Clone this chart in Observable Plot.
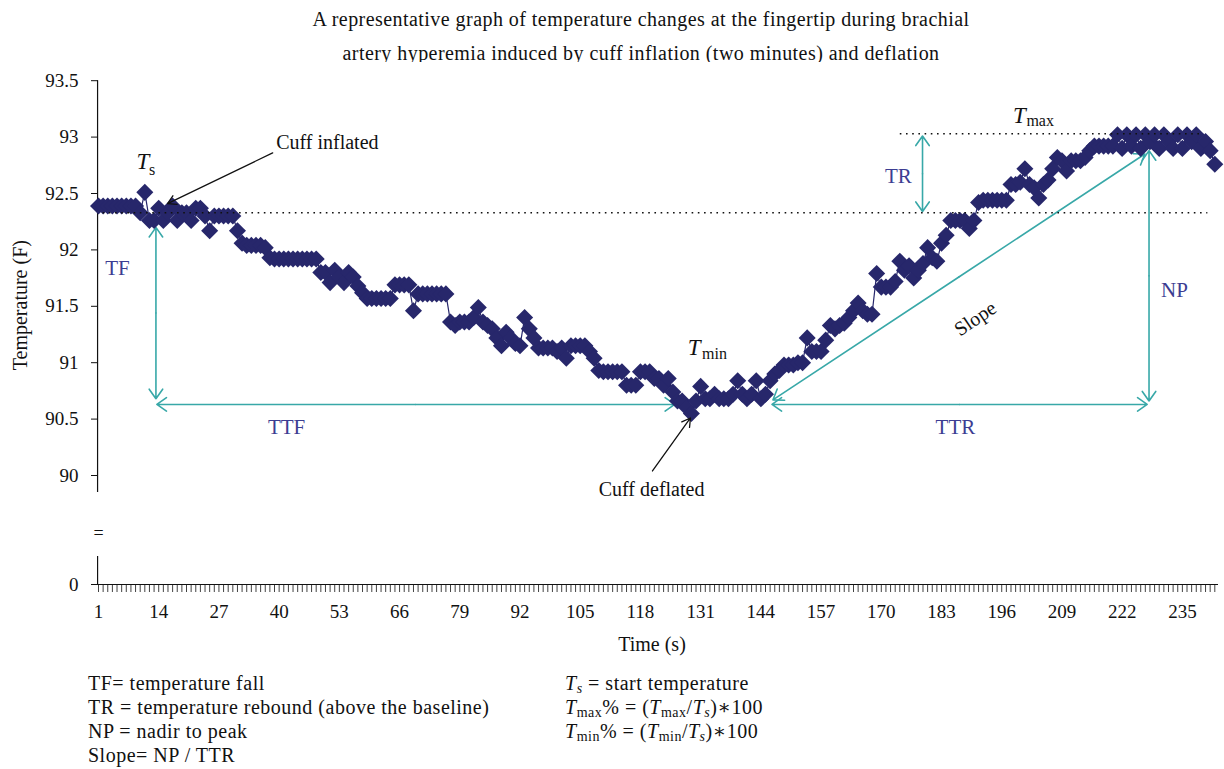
<!DOCTYPE html>
<html><head><meta charset="utf-8">
<script src="https://cdn.jsdelivr.net/npm/d3@7"></script>
<script src="https://cdn.jsdelivr.net/npm/@observablehq/plot@0.6"></script>
<style>
body{margin:0;background:#fff;width:1224px;height:769px;overflow:hidden;position:relative;font-family:'Liberation Serif','DejaVu Serif',serif;color:#111;}
#title{position:absolute;left:0;top:2px;width:1282px;text-align:center;font-size:20px;letter-spacing:0.45px;line-height:34px;}
#chart{position:absolute;left:0;top:62px;}
#xlabel{position:absolute;left:552px;width:200px;top:633px;text-align:center;font-size:20px;}
.notes{position:absolute;top:671px;font-size:20px;letter-spacing:0.5px;line-height:24px;white-space:nowrap;}
.notes sub{font-size:14px;vertical-align:-3px;line-height:0;}
</style></head>
<body>
<div id="title">A representative graph of temperature changes at the fingertip during brachial<br>artery hyperemia induced by cuff inflation (two minutes) and deflation</div>
<div id="chart"></div>
<div id="xlabel">Time (s)</div>
<div class="notes" style="left:88px">TF= temperature fall<br>TR = temperature rebound (above the baseline)<br>NP = nadir to peak<br>Slope= NP / TTR</div>
<div class="notes" style="left:565px"><i>T<sub>s</sub></i> = start temperature<br><i>T</i><sub>max</sub>% = (<i>T</i><sub>max</sub>/<i>T<sub>s</sub></i>)&lowast;100<br><i>T</i><sub>min</sub>% = (<i>T</i><sub>min</sub>/<i>T<sub>s</sub></i>)&lowast;100</div>
<script>
// Fingertip temperature (F), one reading per second
const temperature = [
92.39,92.39,92.39,92.39,92.39,92.39,92.39,92.39,92.39,92.33,
92.51,92.26,92.26,92.37,92.26,92.33,92.39,92.26,92.33,92.33,
92.26,92.37,92.37,92.30,92.17,92.30,92.30,92.30,92.30,92.30,
92.17,92.06,92.04,92.04,92.04,92.04,92.02,91.93,91.92,91.92,
91.92,91.92,91.92,91.92,91.92,91.92,91.92,91.92,91.80,91.80,
91.71,91.82,91.76,91.71,91.80,91.76,91.68,91.62,91.57,91.57,
91.57,91.57,91.57,91.57,91.69,91.69,91.69,91.69,91.46,91.61,
91.61,91.61,91.61,91.61,91.61,91.61,91.36,91.33,91.36,91.36,
91.36,91.40,91.49,91.36,91.33,91.30,91.22,91.15,91.27,91.22,
91.17,91.15,91.40,91.30,91.22,91.13,91.13,91.13,91.13,91.10,
91.13,91.04,91.15,91.15,91.15,91.15,91.10,91.04,90.93,90.92,
90.92,90.92,90.92,90.92,90.80,90.80,90.80,90.92,90.92,90.92,
90.86,90.86,90.80,90.86,90.74,90.66,90.66,90.60,90.55,90.66,
90.79,90.68,90.68,90.72,90.68,90.68,90.68,90.72,90.84,90.72,
90.68,90.72,90.84,90.68,90.72,90.84,90.90,90.93,90.98,90.98,
90.98,91.00,91.00,91.22,91.10,91.10,91.10,91.20,91.33,91.30,
91.33,91.35,91.40,91.46,91.53,91.46,91.43,91.43,91.79,91.67,
91.67,91.67,91.72,91.90,91.82,91.86,91.75,91.82,91.88,92.02,
91.93,91.90,92.06,92.13,92.26,92.26,92.26,92.26,92.19,92.26,
92.42,92.44,92.44,92.44,92.44,92.44,92.44,92.58,92.58,92.60,
92.72,92.58,92.55,92.46,92.58,92.62,92.72,92.82,92.79,92.70,
92.79,92.79,92.79,92.82,92.88,92.92,92.92,92.92,92.92,92.92,
93.02,92.90,93.02,92.92,93.02,92.90,93.02,92.96,93.02,92.90,
93.02,92.96,92.90,93.02,92.90,93.02,92.96,93.02,92.90,92.96,
92.88,92.76
];
const seconds = temperature.map((_, i) => i + 1);
const xTickLabels = [1,14,27,40,53,66,79,92,105,118,131,144,157,170,183,196,209,222,235];
const yTicks = [0, 90, 90.5, 91, 91.5, 92, 92.5, 93, 93.5];
const baseline = 92.33;   // start temperature level
const peakLevel = 93.03;  // Tmax level

// annotation geometry in data units (second, F)
const doubleArrows = [
  [13.4, 92.20, 13.4, 90.68],   // TF
  [13.6, 90.63, 125.4, 90.63],  // TTF
  [146.4, 90.63, 227.4, 90.63], // TTR
  [227.8, 90.66, 227.8, 92.88], // NP
  [146.6, 90.67, 226.9, 92.85], // Slope
  [178.9, 92.34, 178.9, 93.01]  // TR
];
const blackArrows = [
  {x1: 38.6, y1: 92.86, x2: 15.9, y2: 92.41},  // cuff inflated
  {x1: 120.6, y1: 90.04, x2: 128.8, y2: 90.51} // cuff deflated
];
const blueLabels = [
  {x: 5.1, y: 91.84, text: "TF"},
  {x: 41.6, y: 90.43, text: "TTF"},
  {x: 186.0, y: 90.43, text: "TTR"},
  {x: 233.3, y: 91.64, text: "NP"},
  {x: 173.7, y: 92.65, text: "TR"}
];
const blackLabels = [
  {x: 50.4, y: 92.95, text: "Cuff inflated"},
  {x: 120.4, y: 89.875, text: "Cuff deflated"}
];
const italicT = [
  {x: 10.6, y: 92.78}, {x: 129.6, y: 91.13}, {x: 199.8, y: 93.19}
];
const subs = [
  {x: 12.6, y: 92.71, text: "s", italic: true},
  {x: 134.0, y: 91.08, text: "min", italic: false},
  {x: 204.3, y: 93.14, text: "max", italic: false}
];

const navy = "#27276b";
const teal = "#38a8a8";
const blue = "#3c3d92";
const serif = "'Liberation Serif','DejaVu Serif',serif";

const data = seconds.map((t, i) => ({t, v: temperature[i]}));
const arrowSegs = doubleArrows.flatMap(([x1, y1, x2, y2]) => {
  const mx = (x1 + x2) / 2, my = (y1 + y2) / 2;
  return [{x1: mx, y1: my, x2: x1, y2: y1}, {x1: mx, y1: my, x2: x2, y2: y2}];
});
const diamond = {draw(ctx, size) {
  const h = Math.sqrt(size / 2);
  ctx.moveTo(0, -h); ctx.lineTo(h, 0); ctx.lineTo(0, h); ctx.lineTo(-h, 0); ctx.closePath();
}};

const chart = Plot.plot({
  width: 1224,
  height: 600,
  marginLeft: 98,
  marginRight: 9.7,
  marginTop: 18.2,
  marginBottom: 78,
  style: {fontFamily: serif, fontSize: "18px", background: "white", color: "#111", overflow: "visible"},
  x: {domain: [1, 242]},
  y: {type: "linear", domain: [0, 89.5, 93.5], range: [522, 469.4, 18.2]},
  marks: [
    // axes
    Plot.ruleX([{a: 89.85, b: 93.5}, {a: 0, b: 47.6}], {x: 0.8, y1: "a", y2: "b", stroke: "#111", strokeWidth: 1.2}),
    Plot.axisY(yTicks, {anchor: "left", tickSize: 7, tickPadding: 13, tickFormat: d => String(d), fontSize: 19, label: null, stroke: "#111"}),
    Plot.text(["="], {frameAnchor: "left", y: [86.8], dx: 0, textAnchor: "middle", fontSize: 18, fill: "#111"}),
    Plot.text(["Temperature (F)"], {frameAnchor: "left", y: [91.51], dx: -78, rotate: -90, textAnchor: "middle", fontSize: 20, fill: "#111"}),
    Plot.ruleY([0], {x1: 0.8, x2: 242.8, stroke: "#111", strokeWidth: 1.2}),
    Plot.axisX(seconds, {anchor: "bottom", tickSize: 8, tickFormat: () => "", label: null, stroke: "#111", strokeWidth: 0.8}),
    Plot.axisX(xTickLabels, {anchor: "bottom", tickSize: 0, tickPadding: 20, fontSize: 19, label: null}),
    // teal annotation arrows
    Plot.arrow(arrowSegs, {x1: "x1", y1: "y1", x2: "x2", y2: "y2", stroke: teal, strokeWidth: 1.6, headLength: 11, headAngle: 70}),
    // data
    Plot.line(data, {x: "t", y: "v", stroke: navy, strokeWidth: 1.2}),
    Plot.dot(data, {x: "t", y: "v", symbol: diamond, r: 6.8, fill: navy, stroke: "none"}),
    // dotted reference lines
    Plot.ruleY([baseline], {x1: 2, x2: 240.5, stroke: "#111", strokeWidth: 1.6, strokeDasharray: "1.6 4.6"}),
    Plot.ruleY([peakLevel], {x1: 174.1, x2: 239.6, stroke: "#111", strokeWidth: 1.6, strokeDasharray: "1.6 4.6"}),
    // black arrows + labels
    Plot.arrow(blackArrows, {x1: "x1", y1: "y1", x2: "x2", y2: "y2", stroke: "#111", strokeWidth: 1.3, headLength: 11, headAngle: 60}),
    Plot.text(blackLabels, {x: "x", y: "y", text: "text", fontSize: 20, letterSpacing: 0.3, fill: "#111"}),
    Plot.text(blueLabels, {x: "x", y: "y", text: "text", fontSize: 21, fill: blue}),
    Plot.text(["Slope"], {x: [190.3], y: [91.39], text: d => d, rotate: -34, fontSize: 20, fill: "#111"}),
    Plot.text(italicT, {x: "x", y: "y", text: () => "T", fontSize: 23, fontStyle: "italic", fill: "#111"}),
    Plot.text(subs, {x: "x", y: "y", text: "text", fontSize: 16, fontStyle: d => d.italic ? "italic" : "normal", fill: "#111"})
  ]
});
document.getElementById("chart").appendChild(chart);
</script>
</body></html>
